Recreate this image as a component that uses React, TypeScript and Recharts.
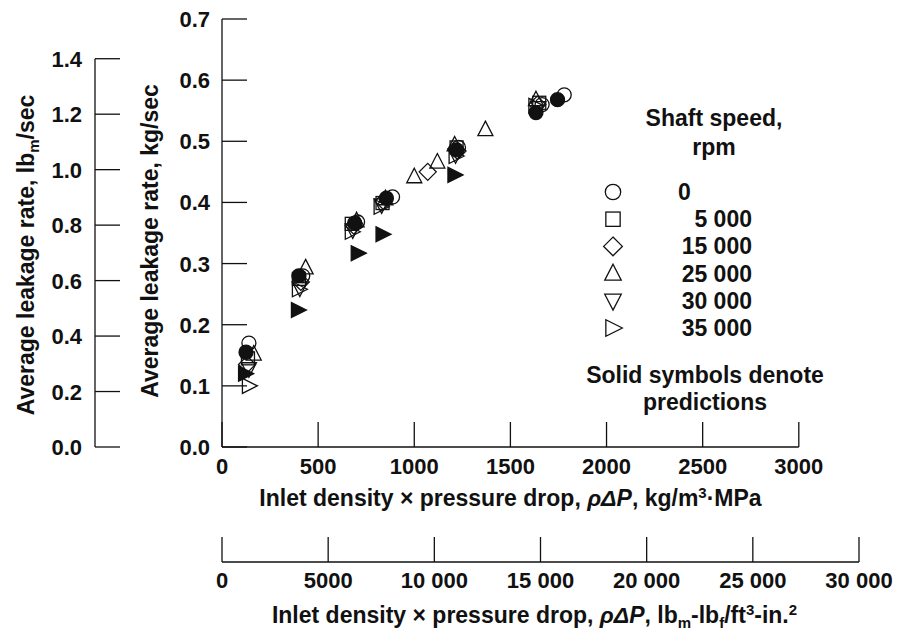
import React from "react";
import { ScatterChart, Scatter, XAxis, YAxis, Legend } from "recharts";

// x: inlet density x pressure drop, kg/m3·MPa ; y: average leakage rate, kg/sec
const speed0 = [
  { x: 140, y: 0.17 }, { x: 420, y: 0.28 }, { x: 705, y: 0.368 }, { x: 887, y: 0.409 },
  { x: 1230, y: 0.49 }, { x: 1665, y: 0.56 }, { x: 1780, y: 0.576 },
];
const speed5000 = [
  { x: 135, y: 0.145 }, { x: 400, y: 0.275 }, { x: 675, y: 0.365 }, { x: 835, y: 0.399 },
  { x: 1220, y: 0.49 }, { x: 1650, y: 0.563 },
];
const speed15000 = [
  { x: 130, y: 0.135 }, { x: 410, y: 0.27 }, { x: 685, y: 0.362 }, { x: 840, y: 0.402 },
  { x: 1070, y: 0.45 }, { x: 1225, y: 0.484 }, { x: 1640, y: 0.56 },
];
const speed25000 = [
  { x: 165, y: 0.152 }, { x: 435, y: 0.293 }, { x: 700, y: 0.37 }, { x: 850, y: 0.406 },
  { x: 1000, y: 0.442 }, { x: 1120, y: 0.466 }, { x: 1210, y: 0.494 }, { x: 1370, y: 0.519 },
  { x: 1633, y: 0.568 },
];
const speed30000 = [
  { x: 140, y: 0.128 }, { x: 405, y: 0.26 }, { x: 680, y: 0.355 }, { x: 830, y: 0.396 },
  { x: 1215, y: 0.478 }, { x: 1645, y: 0.555 },
];
const speed35000 = [
  { x: 140, y: 0.1 }, { x: 400, y: 0.258 }, { x: 675, y: 0.352 }, { x: 825, y: 0.393 },
  { x: 1215, y: 0.476 }, { x: 1630, y: 0.558 },
];
// solid symbols = predictions
const predicted0 = [
  { x: 125, y: 0.155 }, { x: 400, y: 0.28 }, { x: 690, y: 0.366 }, { x: 855, y: 0.407 },
  { x: 1220, y: 0.486 }, { x: 1633, y: 0.547 }, { x: 1745, y: 0.568 },
];
const predicted35000 = [
  { x: 120, y: 0.12 }, { x: 395, y: 0.224 }, { x: 706, y: 0.317 }, { x: 835, y: 0.348 },
  { x: 1209, y: 0.445 },
];

const kgTicksX = [0, 500, 1000, 1500, 2000, 2500, 3000];
const lbTicksX = [0, 5000, 10000, 15000, 20000, 25000, 30000];
const lbTickLabelsX = ["0", "5000", "10 000", "15 000", "20 000", "25 000", "30 000"];
const kgTicksY = [0, 0.1, 0.2, 0.3, 0.4, 0.5, 0.6, 0.7];
const lbTicksY = [0, 0.2, 0.4, 0.6, 0.8, 1.0, 1.2, 1.4];

const LB_PER_KG = 2.20462;
const SI_TO_US = 9.055; // (lbm/ft3)(lbf/in2) per (kg/m3)(MPa)
const KG_Y_MAX = 0.7;
const LB_Y_MAX = KG_Y_MAX * LB_PER_KG;
const LB_X_MAX = 30000;
const KG_X_MAX = LB_X_MAX / SI_TO_US;

// same measurements expressed in US units, only to give the secondary x axis its data
const speed0US = speed0.map((d) => ({ xUS: d.x * SI_TO_US, y: d.y }));

const W = 901;
const H = 636;
const PLOT_LEFT = 222;
const PLOT_TOP = 19;
const PLOT_RIGHT = 859;
const PLOT_BOTTOM = 447;
const PLOT_W = PLOT_RIGHT - PLOT_LEFT;
const PLOT_H = PLOT_BOTTOM - PLOT_TOP;

const INK = "#111";
const FONT = '"Liberation Sans", Arial, Helvetica, sans-serif';
const TICK = 25;

const textStyle = { fontFamily: FONT, fontSize: 22, fontWeight: 700, fill: INK } as const;
const titleStyle = { ...textStyle, fontSize: 23 } as const;

function Marker({ cx, cy, kind, filled, s = 1 }: { cx: number; cy: number; kind: string; filled: boolean; s?: number }) {
  const common = { fill: filled ? INK : "none", stroke: INK, strokeWidth: 1.3 };
  if (cx == null || cy == null) return null;
  switch (kind) {
    case "circle":
      return <circle cx={cx} cy={cy} r={7 * s} {...common} />;
    case "square":
      return <rect x={cx - 6.5 * s} y={cy - 6.5 * s} width={13 * s} height={13 * s} {...common} />;
    case "diamond":
      return <path d={`M${cx},${cy - 8.5 * s}L${cx + 8.5 * s},${cy}L${cx},${cy + 8.5 * s}L${cx - 8.5 * s},${cy}Z`} {...common} />;
    case "up":
      return <path d={`M${cx},${cy - 8.5 * s}L${cx + 7.5 * s},${cy + 6 * s}L${cx - 7.5 * s},${cy + 6 * s}Z`} {...common} />;
    case "down":
      return <path d={`M${cx},${cy + 8.5 * s}L${cx + 7.5 * s},${cy - 6 * s}L${cx - 7.5 * s},${cy - 6 * s}Z`} {...common} />;
    default:
      return <path d={`M${cx + 8.5 * s},${cy}L${cx - 6.5 * s},${cy - 7.5 * s}L${cx - 6.5 * s},${cy + 7.5 * s}Z`} {...common} />;
  }
}

const shapeOf = (kind: string, filled: boolean) => (p: any) => <Marker cx={p.cx} cy={p.cy} kind={kind} filled={filled} />;
const noShape = () => <g />;

const series = [
  { name: "0", data: speed0, kind: "circle", filled: false },
  { name: "5 000", data: speed5000, kind: "square", filled: false },
  { name: "15 000", data: speed15000, kind: "diamond", filled: false },
  { name: "25 000", data: speed25000, kind: "up", filled: false },
  { name: "30 000", data: speed30000, kind: "down", filled: false },
  { name: "35 000", data: speed35000, kind: "right", filled: false },
  { name: "predicted 0", data: predicted0, kind: "circle", filled: true },
  { name: "predicted 35 000", data: predicted35000, kind: "right", filled: true },
];

function KgYTick({ x, y, payload }: any) {
  return (
    <g>
      <line x1={x} y1={y} x2={x + TICK} y2={y} stroke={INK} strokeWidth={1.3} />
      <text x={x - 12} y={y + 8} textAnchor="end" style={textStyle}>{Number(payload.value).toFixed(1)}</text>
    </g>
  );
}

function LbYTick({ x, y, payload, index }: any) {
  const top = y - (lbTicksY[lbTicksY.length - 1] * PLOT_H) / LB_Y_MAX;
  return (
    <g>
      {index === 0 && <line x1={x} y1={y} x2={x} y2={top} stroke={INK} strokeWidth={1.3} />}
      <line x1={x} y1={y} x2={x + TICK} y2={y} stroke={INK} strokeWidth={1.3} />
      <text x={x - 13} y={y + 8} textAnchor="end" style={textStyle}>{Number(payload.value).toFixed(1)}</text>
    </g>
  );
}

function KgXTick({ x, y, payload, index }: any) {
  const right = x + (kgTicksX[kgTicksX.length - 1] * PLOT_W) / KG_X_MAX;
  return (
    <g>
      {index === 0 && <line x1={x} y1={y} x2={right} y2={y} stroke={INK} strokeWidth={1.3} />}
      <line x1={x} y1={y} x2={x} y2={y - TICK} stroke={INK} strokeWidth={1.3} />
      <text x={x} y={y + 27} textAnchor="middle" style={textStyle}>{String(payload.value)}</text>
    </g>
  );
}

function LbXTick({ x, y, payload, index }: any) {
  const i = lbTicksX.indexOf(payload.value);
  return (
    <g>
      <line x1={x} y1={y} x2={x} y2={y - TICK} stroke={INK} strokeWidth={1.3} />
      <text x={x} y={y + 26} textAnchor="middle" style={textStyle}>{lbTickLabelsX[i >= 0 ? i : index]}</text>
    </g>
  );
}

function KgXTitle(props: any) {
  const vb = props.viewBox || props;
  return (
    <text x={vb.x + vb.width / 2 - 30} y={vb.y + 59} textAnchor="middle" style={titleStyle}>
      {"Inlet density \u00d7 pressure drop, "}
      <tspan fontStyle="italic">{"\u03c1\u0394P"}</tspan>
      {", kg/m"}
      <tspan dy={-8} fontSize={15}>3</tspan>
      <tspan dy={8}>{"\u00b7MPa"}</tspan>
    </text>
  );
}

function LbXTitle(props: any) {
  const vb = props.viewBox || props;
  return (
    <text x={vb.x + vb.width / 2 - 6} y={vb.y + 61} textAnchor="middle" style={titleStyle}>
      {"Inlet density \u00d7 pressure drop, "}
      <tspan fontStyle="italic">{"\u03c1\u0394P"}</tspan>
      {", lb"}
      <tspan dy={5} fontSize={15}>m</tspan>
      <tspan dy={-5}>{"-lb"}</tspan>
      <tspan dy={5} fontSize={15}>f</tspan>
      <tspan dy={-5}>{"/ft"}</tspan>
      <tspan dy={-8} fontSize={15}>3</tspan>
      <tspan dy={8}>{"-in."}</tspan>
      <tspan dy={-8} fontSize={15}>2</tspan>
    </text>
  );
}

function KgYTitle(props: any) {
  const vb = props.viewBox || props;
  const cx = vb.x + 55;
  const cy = vb.y + vb.height / 2 + 8;
  return (
    <text x={cx} y={cy + 8} transform={`rotate(-90 ${cx} ${cy})`} textAnchor="middle" style={titleStyle}>
      Average leakage rate, kg/sec
    </text>
  );
}

function LbYTitle(props: any) {
  const vb = props.viewBox || props;
  const cx = vb.x + 26;
  const cy = vb.y + vb.height / 2 + 22;
  return (
    <text x={cx} y={cy + 8} transform={`rotate(-90 ${cx} ${cy})`} textAnchor="middle" style={titleStyle}>
      {"Average leakage rate, lb"}
      <tspan dy={5} fontSize={15}>m</tspan>
      <tspan dy={-5}>/sec</tspan>
    </text>
  );
}

function LegendBlock({ payload }: any) {
  const rows = series.filter((s) => !s.filled && (payload || []).some((e: any) => e.value === s.name));
  return (
    <svg width={W} height={H} style={{ position: "absolute", left: 0, top: 0, overflow: "visible", pointerEvents: "none" }}>
      <text x={714} y={126} textAnchor="middle" style={titleStyle}>Shaft speed,</text>
      <text x={714} y={155} textAnchor="middle" style={titleStyle}>rpm</text>
      {rows.map((s, i) => {
        const cy = 192 + i * 27.2;
        return (
          <g key={s.name}>
            <Marker cx={613} cy={cy} kind={s.kind} filled={false} s={1.1} />
            {s.name.length === 1 ? (
              <text x={678} y={cy + 8} textAnchor="start" style={titleStyle}>{s.name}</text>
            ) : (
              <text x={752} y={cy + 8} textAnchor="end" style={titleStyle}>{s.name}</text>
            )}
          </g>
        );
      })}
      <text x={705} y={383} textAnchor="middle" style={titleStyle}>Solid symbols denote</text>
      <text x={705} y={410} textAnchor="middle" style={titleStyle}>predictions</text>
    </svg>
  );
}

export default function App() {
  return (
    <div style={{ position: "absolute", left: 0, top: 0, width: W, height: H, background: "#fff" }}>
      <ScatterChart width={W} height={H} margin={{ top: PLOT_TOP, right: W - PLOT_RIGHT, bottom: 0, left: 0 }}>
        <XAxis
          xAxisId="kg"
          type="number"
          dataKey="x"
          domain={[0, KG_X_MAX]}
          allowDataOverflow
          ticks={kgTicksX}
          interval={0}
          height={115}
          axisLine={false}
          tickLine={false}
          tickSize={0}
          tickMargin={0}
          tick={KgXTick}
          label={KgXTitle}
        />
        <XAxis
          xAxisId="lb"
          type="number"
          dataKey="xUS"
          domain={[0, LB_X_MAX]}
          allowDataOverflow
          ticks={lbTicksX}
          interval={0}
          height={H - PLOT_BOTTOM - 115}
          axisLine={{ stroke: INK, strokeWidth: 1.3 }}
          tickLine={false}
          tickSize={0}
          tickMargin={0}
          tick={LbXTick}
          label={LbXTitle}
        />
        <YAxis
          yAxisId="kg"
          type="number"
          dataKey="y"
          domain={[0, KG_Y_MAX]}
          allowDataOverflow
          ticks={kgTicksY}
          interval={0}
          width={PLOT_LEFT - 95}
          axisLine={{ stroke: INK, strokeWidth: 1.3 }}
          tickLine={false}
          tickSize={0}
          tickMargin={0}
          tick={KgYTick}
          label={KgYTitle}
        />
        <YAxis
          yAxisId="lb"
          type="number"
          domain={[0, LB_Y_MAX]}
          allowDataOverflow
          ticks={lbTicksY}
          interval={0}
          width={95}
          axisLine={false}
          tickLine={false}
          tickSize={0}
          tickMargin={0}
          tick={LbYTick}
          label={LbYTitle}
        />
        <Legend
          content={LegendBlock}
          layout="vertical"
          align="right"
          verticalAlign="top"
          wrapperStyle={{ position: "absolute", left: 0, top: 0, width: 0, height: 0, overflow: "visible" }}
        />
        <Scatter
          name="us-units"
          data={speed0US}
          xAxisId="lb"
          yAxisId="kg"
          dataKey="xUS"
          legendType="none"
          shape={noShape}
          isAnimationActive={false}
        />
        {series.map((s) => (
          <Scatter
            key={s.name}
            name={s.name}
            data={s.data}
            xAxisId="kg"
            yAxisId="kg"
            shape={shapeOf(s.kind, s.filled)}
            isAnimationActive={false}
          />
        ))}
      </ScatterChart>
    </div>
  );
}
